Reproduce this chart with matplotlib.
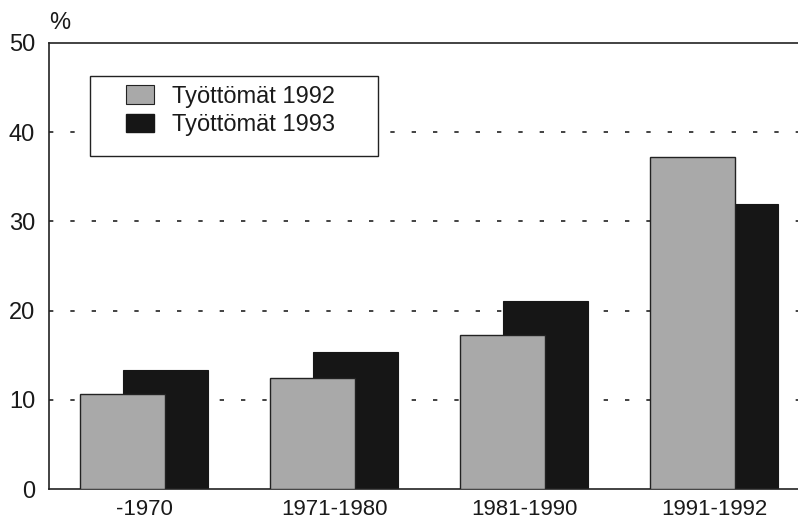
import matplotlib
matplotlib.use("Agg")
import matplotlib.pyplot as plt
from matplotlib.patches import Patch, Rectangle
import numpy as np

plt.rcParams['font.family'] = ['Liberation Sans', 'DejaVu Sans']

categories = ["-1970", "1971-1980", "1981-1990", "1991-1992"]
unemployed_1992 = [10.6, 12.5, 17.3, 37.2]
unemployed_1993 = [13.3, 15.4, 21.1, 32.0]
series_labels = ["Työttömät 1992", "Työttömät 1993"]
y_ticks = [0, 10, 20, 30, 40, 50]

gray = "#a9a9a9"
dark = "#161616"
fs = 17

fig = plt.figure(figsize=(7.98, 5.24), dpi=100)
ax = fig.add_axes([49 / 798, 35 / 524, 749 / 798, 446 / 524])

x = np.arange(len(categories))
w = 0.45
off = 0.113
ax.bar(x + off, unemployed_1993, width=w, color=dark, edgecolor=dark,
       linewidth=0.8, zorder=2)
ax.bar(x - off, unemployed_1992, width=w, color=gray, edgecolor="#222222",
       linewidth=1.0, zorder=3)

ax.set_xlim(-0.5, 3.442)
ax.set_ylim(0, 50)
ax.set_yticks(y_ticks)
ax.set_xticks(x)
ax.set_xticklabels(categories)
ax.tick_params(axis="both", length=0, labelsize=fs, colors="#1a1a1a")
ax.tick_params(axis="y", pad=10)
ax.tick_params(axis="x", pad=7, labelsize=16)

# dashed guide lines behind the bars
for t in y_ticks[1:-1]:
    ax.axhline(t, color="#222222", lw=1.2, dashes=(2.6, 10.2), zorder=1)

for s in ["top", "left", "bottom"]:
    ax.spines[s].set_linewidth(1.2)
    ax.spines[s].set_color("#222222")
ax.spines["right"].set_visible(False)

ax.text(0.0, 1.02, "%", transform=ax.transAxes, fontsize=fs,
        ha="left", va="bottom", color="#1a1a1a")

# legend box
ax.add_patch(Rectangle((0.0547, 0.747), 0.3845, 0.179, transform=ax.transAxes,
                       facecolor="white", edgecolor="#222222", lw=1.0, zorder=4))
handles = [Patch(facecolor=gray, edgecolor="#222222", lw=0.8),
           Patch(facecolor=dark, edgecolor=dark)]
leg = ax.legend(handles, series_labels, loc="upper left",
                bbox_to_anchor=(0.1028, 0.905), frameon=False, fontsize=fs,
                borderpad=0, borderaxespad=0, handlelength=1.2,
                handleheight=0.83, handletextpad=0.75, labelspacing=0.25)
leg.set_zorder(5)
for t in leg.get_texts():
    t.set_color("#1a1a1a")

fig.savefig("out.png", dpi=100)
